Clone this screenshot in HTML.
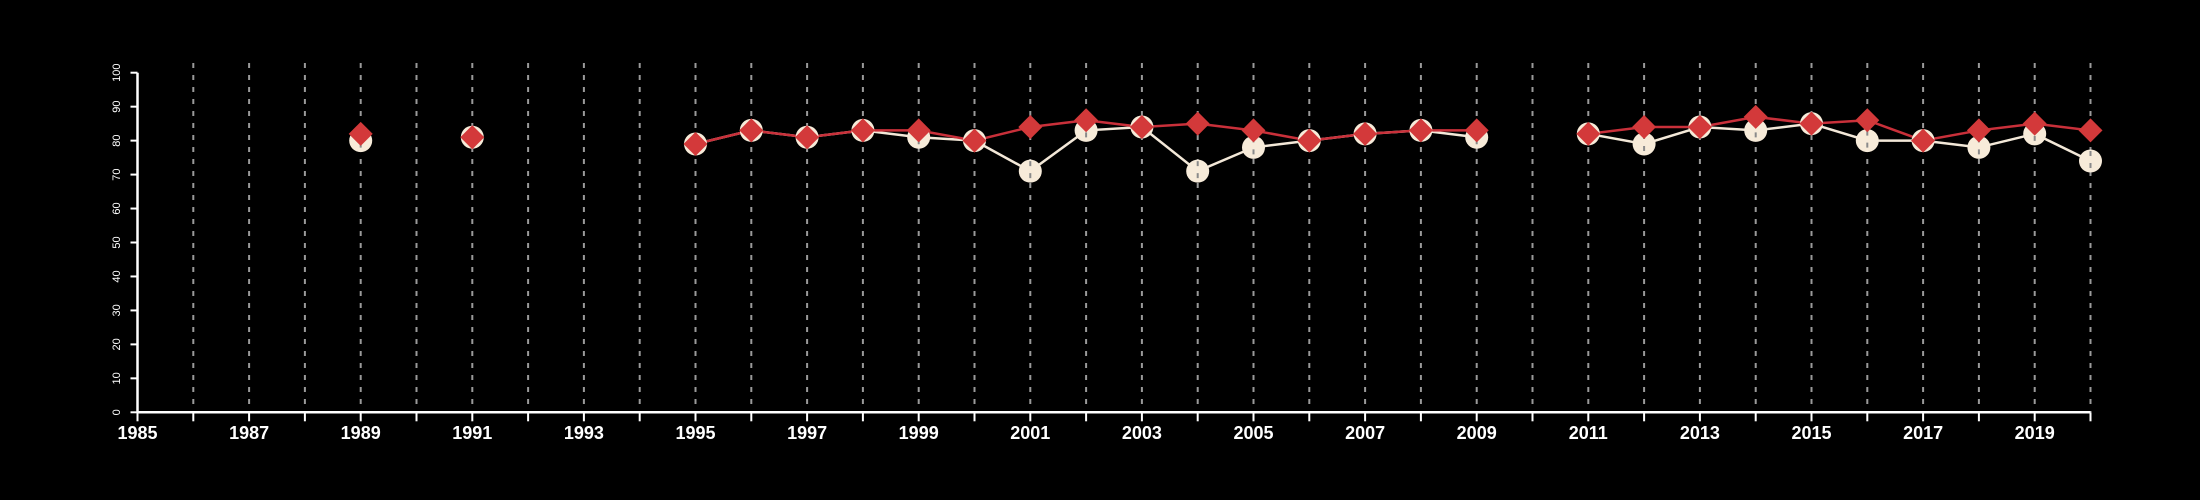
<!DOCTYPE html>
<html><head><meta charset="utf-8"><style>
html,body{margin:0;padding:0;background:#000;}
svg{display:block;font-family:"Liberation Sans",sans-serif;}
</style></head><body>
<svg id="chart" width="2200" height="500" viewBox="0 0 2200 500" xmlns="http://www.w3.org/2000/svg">
<rect width="2200" height="500" fill="#000"/>
<g id="grid"></g>
<g id="axes"></g>
<g id="series"></g>
</svg>
<script>
const years = [1989,1991,1995,1996,1997,1998,1999,2000,2001,2002,2003,2004,2005,2006,2007,2008,2009,2011,2012,2013,2014,2015,2016,2017,2018,2019,2020];
const seriesA = [80,81,79,83,81,83,81,80,71,83,84,71,78,80,82,83,81,82,79,84,83,85,80,80,78,82,74];
const seriesB = [82,81,79,83,81,83,83,80,84,86,84,85,83,80,82,83,83,82,84,84,87,85,86,80,83,85,83];
const yTicks = [0,10,20,30,40,50,60,70,80,90,100];
const xMin = 1985, xMax = 2020;

const NS = "http://www.w3.org/2000/svg";
const X0 = 137.5, PXY = 55.8, Y0 = 412.3, PYU = 3.396;
const xs = v => X0 + (v - xMin) * PXY;
const ys = v => Y0 - v * PYU;
function mk(tag, attrs, parent){ const e=document.createElementNS(NS,tag); for(const k in attrs) e.setAttribute(k,attrs[k]); parent.appendChild(e); return e; }
const grid=document.getElementById('grid'), axes=document.getElementById('axes'), ser=document.getElementById('series');

for(let yr=xMin+1; yr<=xMax; yr++){
  const l=mk('line',{x1:xs(yr),x2:xs(yr),y1:63,y2:Y0,stroke:'#9a9a9a','stroke-width':2,'stroke-dasharray':'5,7'},grid);
  
  
}
const xa=mk('line',{x1:xs(xMin),x2:xs(xMax),y1:Y0,y2:Y0,stroke:'#fff','stroke-width':2.5},axes);


const ya=mk('line',{x1:X0,x2:X0,y1:ys(100),y2:Y0,stroke:'#fff','stroke-width':2.5},axes);


for(let yr=xMin; yr<=xMax; yr++){
  const t=mk('line',{x1:xs(yr),x2:xs(yr),y1:Y0,y2:Y0+9,stroke:'#fff','stroke-width':2},axes);
  
  
  if((yr-xMin)%2===0){
    const tx=mk('text',{x:xs(yr),y:439,fill:'#fff','font-size':18,'font-weight':'bold','text-anchor':'middle'},axes);
    tx.textContent=yr;
    
    
  }
}
yTicks.forEach(v=>{
  const t=mk('line',{x1:X0-7,x2:X0,y1:ys(v),y2:ys(v),stroke:'#fff','stroke-width':2},axes);
  
  
  const tx=mk('text',{x:0,y:0,fill:'#fff','font-size':11,'text-anchor':'middle',transform:`translate(120,${ys(v)}) rotate(-90)`},axes);
  tx.textContent=v;
  
  
});

function segments(vals){
  const segs=[]; let cur=[];
  years.forEach((yr,i)=>{
    if(i>0 && yr-years[i-1]>1){ if(cur.length>1) segs.push(cur); cur=[]; }
    cur.push([xs(yr),ys(vals[i])]);
  });
  if(cur.length>1) segs.push(cur);
  return segs;
}
segments(seriesA).forEach((s,i)=>{
  const p=mk('polyline',{points:s.map(q=>q.join(',')).join(' '),fill:'none',stroke:'#f3e8d8','stroke-width':2.5},ser);
  
  
});
segments(seriesB).forEach((s,i)=>{
  const p=mk('polyline',{points:s.map(q=>q.join(',')).join(' '),fill:'none',stroke:'#c9303a','stroke-width':2.5},ser);
  
  
});
years.forEach((yr,i)=>{
  const c=mk('circle',{cx:xs(yr),cy:ys(seriesA[i]),r:11.5,fill:'#f7ebd9'},ser);
  
  
  mk('line',{x1:xs(yr),x2:xs(yr),y1:ys(seriesA[i])-10,y2:ys(seriesA[i])+10,stroke:'#8a8a8a','stroke-width':2,'stroke-dasharray':'5,7'},ser);
});
years.forEach((yr,i)=>{
  const x=xs(yr), y=ys(seriesB[i]), h=12;
  const d=mk('polygon',{points:`${x},${y-h} ${x+h},${y} ${x},${y+h} ${x-h},${y}`,fill:'#d3393a'},ser);
  
  
});
</script>
</body></html>
